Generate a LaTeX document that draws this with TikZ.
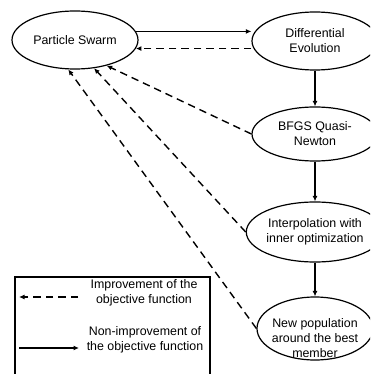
\documentclass[tikz,border=0pt]{standalone}
\usepackage{fontspec}
\setmainfont{Liberation Sans}
\usetikzlibrary{shapes.geometric,arrows.meta}
\begin{document}
\begin{tikzpicture}[x=1pt,y=-1pt,
  font=\fontsize{12.4}{15}\selectfont,
  stage/.style={ellipse,draw,line width=1.2pt,inner sep=0pt,align=center},
  txt/.style={align=center,inner sep=0pt},
  solidarrow/.style={line width=1.2pt,-{Latex[length=5.5pt,width=5pt]}},
  dasharrow/.style={line width=1.4pt,dash pattern=on 7.5pt off 5pt,-{Latex[length=5.5pt,width=5pt]}}]
  \clip (0,0) rectangle (370,374);
  \useasboundingbox (0,0) rectangle (370,374);

  % stages of the hybrid optimizer
  \node[stage,minimum width=126pt,minimum height=58pt] (ps) at (75,40) {Particle Swarm};
  \node[stage,minimum width=126pt,minimum height=58pt] (de) at (315,41) {Differential\\Evolution};
  \node[stage,minimum width=126pt,minimum height=54pt] (bfgs) at (315,134) {BFGS Quasi-\\Newton};
  \node[stage,minimum width=124pt,minimum height=60pt] (interp) at (315,232) {Interpolation with\\inner optimization};
  \node[stage,minimum width=116pt,minimum height=63pt] (new) at (315,328.5) {};
  \node[txt] (newtext) at (315,338) {New population\\around the best\\member};

  % flow between stages
  \draw[solidarrow] (ps.8) -- (ps.8 -| de.west);
  \draw[dasharrow] (de.west |- ps.-8) -- (ps.-8);
  \draw[solidarrow] (de.south) -- (bfgs.north);
  \draw[solidarrow] (bfgs.south) -- (interp.north);
  \draw[solidarrow] (interp.south) -- (new.north);
  \draw[dasharrow] (bfgs.west) -- (ps.-39);
  \draw[dasharrow] (interp.west) -- (ps.-56);
  \draw[dasharrow] (new.west) -- (ps.-103);

  % legend
  \node[draw,line width=1.8pt,minimum width=195pt,minimum height=110pt,anchor=north west] (legend) at (14,276) {};
  \coordinate (l1a) at (78,297);
  \coordinate (l1b) at (19,297);
  \coordinate (l2a) at (19,348);
  \coordinate (l2b) at (79,348);
  \draw[dasharrow] (l1a) -- (l1b);
  \draw[solidarrow] (l2a) -- (l2b);
  \node[txt] (l1t) at (144,293) {Improvement of the\\objective function};
  \node[txt] (l2t) at (145,340) {Non-improvement of\\the objective function};
\end{tikzpicture}
\end{document}
